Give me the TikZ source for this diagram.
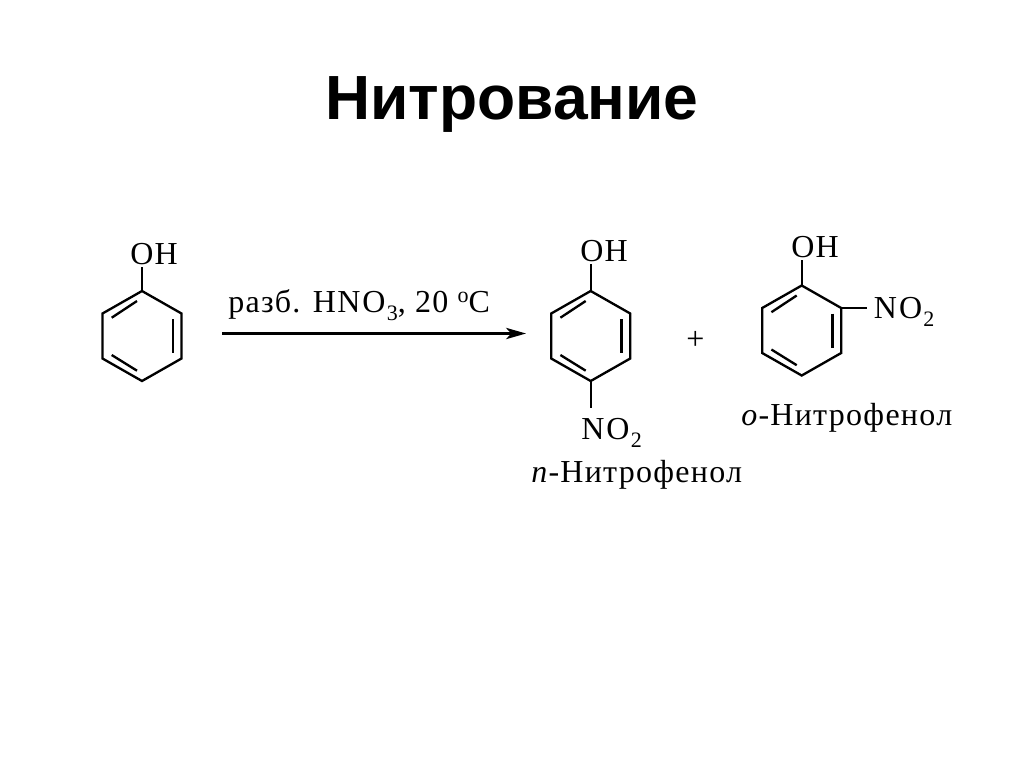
\documentclass[tikz,border=0pt]{standalone}
\usepackage{fontspec}
\usetikzlibrary{arrows.meta}
\setmainfont{Liberation Serif}
\newfontfamily\titlefont{Liberation Sans}
\newfontfamily\chemfont[LetterSpace=4]{Liberation Serif}
\newcommand{\benz}[3]{% name, cx, cy
  \begin{scope}[shift={(#2,#3)}]
    \coordinate (#1t) at (0,-45);
    \coordinate (#1ur) at (39.5,-22.5);
    \coordinate (#1lr) at (39.5,22.5);
    \coordinate (#1b) at (0,45);
    \coordinate (#1ll) at (-39.5,22.5);
    \coordinate (#1ul) at (-39.5,-22.5);
    \draw[bond,line join=miter] (#1t) -- (#1ur) -- (#1lr) -- (#1b) -- (#1ll) -- (#1ul) -- cycle;
    \draw[bond] (30.7,-17) -- (30.7,17);
    \draw[bond] (-30.3,-18.3) -- (-5,-35);
    \draw[bond] (-30.3,19) -- (-5,34.7);
  \end{scope}}
\newcommand{\sub}[1]{\kern1pt\raisebox{-0.25em}{\fontsize{16.5pt}{17pt}\selectfont #1}}
\newcommand{\nitro}{N\kern1.5pt O}
\tikzset{
  bond/.style={line width=1.75pt},
  chem/.style={font=\fontsize{24pt}{28pt}\selectfont\chemfont, inner sep=0pt, text=black},
  arrowline/.style={line width=1.75pt,-{Stealth[length=15pt,width=8.5pt,inset=4pt]}},
}
\begin{document}
\begin{tikzpicture}[x=0.75pt,y=-0.75pt]
\useasboundingbox (0,0) rectangle (1024,768);
\fill[white] (0,0) rectangle (1024,768);
\node[font=\fontsize{46.8pt}{50pt}\selectfont\titlefont\bfseries, anchor=base, inner sep=0pt] (title) at (512,119) {Нитрование};

% phenol
\benz{a}{142}{336}
\node[chem,anchor=base west,inner ysep=2pt] (oha) at (130,264) {OH};
\draw[bond] (at) -- (at |- oha.south);

% reagent arrow
\node[chem,anchor=base west] (reagent) at (228,312) {разб. H\nitro\sub{3}, 20 \raisebox{0.3em}{\fontsize{16.5pt}{17pt}\selectfont o}C};
\coordinate (arrs) at (222,333.5);
\coordinate (arre) at (526,333.5);
\draw[arrowline] (arrs) -- (arre);

% p-nitrophenol
\benz{b}{590.7}{336}
\node[chem,anchor=base west,inner ysep=2pt] (ohb) at (580,261) {OH};
\draw[bond] (bt) -- (bt |- ohb.south);
\node[chem,anchor=base west,inner ysep=7.5pt] (nob) at (581,439.5) {\nitro\sub{2}};
\draw[bond] (bb) -- (bb |- nob.north);
\node[chem,anchor=base west] (nameb) at (531,482) {\textit{п}-Нитрофенол};

\node[chem,anchor=base] (plus) at (695.5,349) {+};

% o-nitrophenol
\benz{c}{801.7}{330.5}
\node[chem,anchor=base west,inner ysep=2pt] (ohc) at (791,257) {OH};
\draw[bond] (ct) -- (ct |- ohc.south);
\node[chem,anchor=base west,inner xsep=5pt] (noc) at (867,318.5) {\nitro\sub{2}};
\draw[bond] (cur) -- (cur -| noc.west);
\node[chem,anchor=base west] (namec) at (741,425) {\textit{о}-Нитрофенол};
\end{tikzpicture}
\end{document}
